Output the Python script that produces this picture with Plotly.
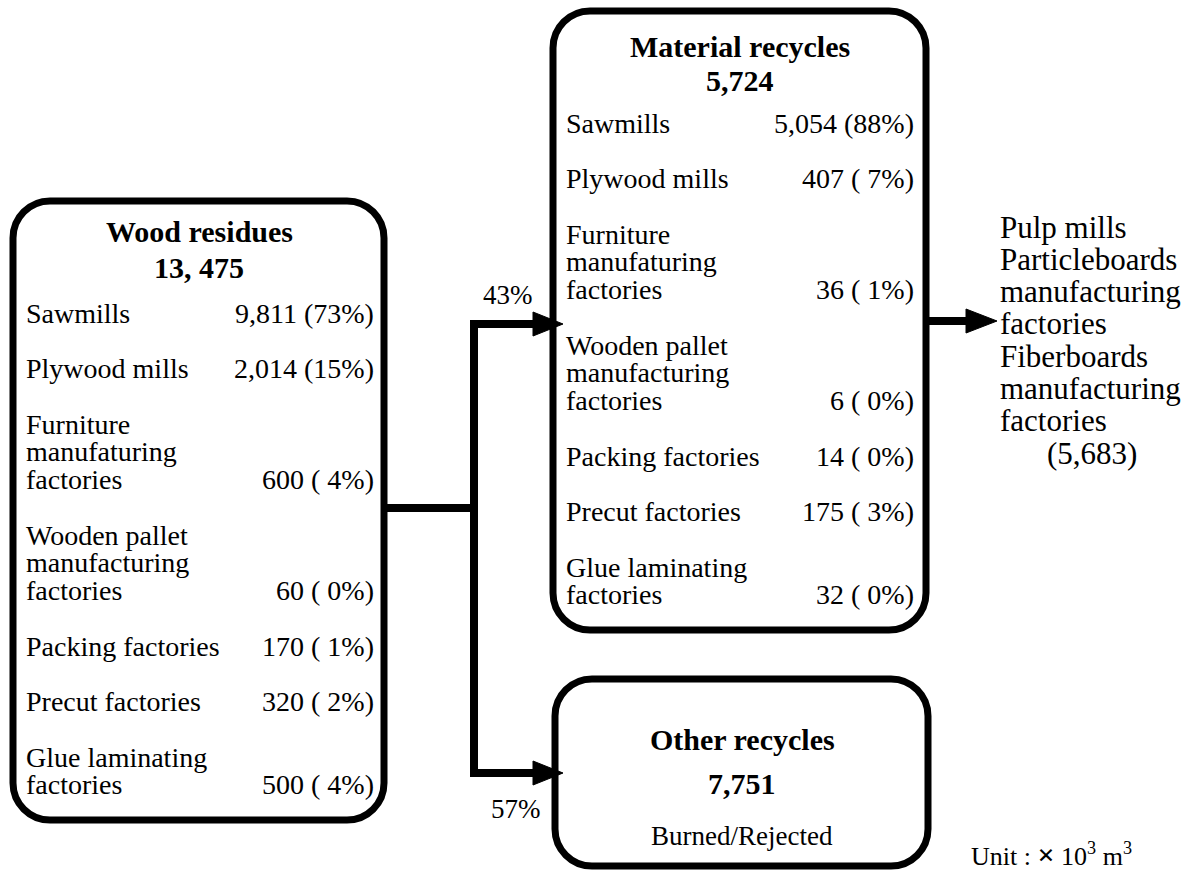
import plotly.graph_objects as go

# ---------------- data ----------------
source_labels = [
    ["Sawmills"],
    ["Plywood mills"],
    ["Furniture", "manufaturing", "factories"],
    ["Wooden pallet", "manufacturing", "factories"],
    ["Packing factories"],
    ["Precut factories"],
    ["Glue laminating", "factories"],
]
residue_values = [9811, 2014, 600, 60, 170, 320, 500]
residue_pct = [73, 15, 4, 0, 1, 2, 4]
material_values = [5054, 407, 36, 6, 14, 175, 32]
material_pct = [88, 7, 1, 0, 0, 3, 0]

residue_title = "Wood residues"
residue_total = "13, 475"
material_title = "Material recycles"
material_total = "5,724"
other_title = "Other recycles"
other_total = "7,751"
other_note = "Burned/Rejected"
share_material = "43%"
share_other = "57%"
destination_lines = ["Pulp mills", "Particleboards", "manufacturing", "factories",
                     "Fiberboards", "manufacturing", "factories"]
destination_total = "(5,683)"
unit_text = "Unit : <span style='font-size:30px'><b>×</b></span> 10<sup>3</sup> m<sup>3</sup>"

# ---------------- styling ----------------
W, H = 1193, 877
FONT = "Liberation Serif, Times New Roman, serif"
BODY = 28
TITLE = 30
LW = 7
K = 0.5523

fig = go.Figure()
shapes = []
annotations = []


def rrect(x0, y0, x1, y1, r):
    k = K * r
    return (f"M {x0+r},{y0} L {x1-r},{y0} C {x1-r+k},{y0} {x1},{y0+r-k} {x1},{y0+r} "
            f"L {x1},{y1-r} C {x1},{y1-r+k} {x1-r+k},{y1} {x1-r},{y1} "
            f"L {x0+r},{y1} C {x0+r-k},{y1} {x0},{y1-r+k} {x0},{y1-r} "
            f"L {x0},{y0+r} C {x0},{y0+r-k} {x0+r-k},{y0} {x0+r},{y0} Z")


def add_box(x0, y0, x1, y1):
    shapes.append(dict(type="path", path=rrect(x0, y0, x1, y1, 37), xref="x", yref="y",
                       line=dict(color="black", width=LW), fillcolor="white", layer="below"))


def text(x, y, s, size=BODY, anchor="left", bold=False):
    annotations.append(dict(x=x, y=y, xref="x", yref="y", text=(f"<b>{s}</b>" if bold else s),
                            showarrow=False, xanchor=anchor, yanchor="middle",
                            font=dict(family=FONT, size=size, color="black")))


def fill_items(top, xl, xr, values, pcts):
    LS, GAP = 27.75, 55.5
    y = top + 112
    for lines, v, p in zip(source_labels, values, pcts):
        for j, ln in enumerate(lines):
            text(xl, y + j * LS, ln)
        ylast = y + (len(lines) - 1) * LS
        label = f"{v:,} ({p}%)" if p >= 10 else f"{v:,} (&nbsp;{p}%)"
        text(xr, ylast, label, anchor="right")
        y = ylast + GAP


def arrow_head(xb, y, length=30, half=12):
    shapes.append(dict(type="path", path=f"M {xb},{y-half} L {xb+length},{y} L {xb},{y+half} Z",
                       xref="x", yref="y", fillcolor="black", line=dict(color="black", width=1)))


# boxes
add_box(13, 201, 384, 820)
add_box(553, 11, 926, 630)
add_box(555, 679, 928, 866)

# left box
text(199, 231, residue_title, TITLE, "center", True)
text(199, 267, residue_total, TITLE, "center", True)
fill_items(201, 24, 376, residue_values, residue_pct)

# material box
text(740, 46, material_title, TITLE, "center", True)
text(740, 80, material_total, TITLE, "center", True)
fill_items(11, 564, 916, material_values, material_pct)

# other box
text(742, 739, other_title, TITLE, "center", True)
text(742, 783, other_total, TITLE, "center", True)
text(742, 836, other_note, 27, "center")

# connectors
shapes.append(dict(type="line", x0=384, y0=508, x1=474, y1=508, xref="x", yref="y",
                   line=dict(color="black", width=8)))
shapes.append(dict(type="path", path="M 536,324 L 474,324 L 474,773 L 536,773", xref="x", yref="y",
                   line=dict(color="black", width=8)))
arrow_head(533, 324)
arrow_head(533, 773)
shapes.append(dict(type="line", x0=926, y0=321, x1=968, y1=321, xref="x", yref="y",
                   line=dict(color="black", width=8)))
arrow_head(966, 321, 31, 12)

text(508, 295, share_material, 27, "center")
text(516, 809, share_other, 27, "center")

# destination text
for i, ln in enumerate(destination_lines):
    text(998, 227 + i * 32.3, ln, 31)
text(1092, 227 + 7 * 32.3, destination_total, 31, "center")

# unit
text(1051, 854, unit_text, 26, "center")

fig.update_layout(
    width=W, height=H, margin=dict(l=0, r=0, t=0, b=0),
    paper_bgcolor="white", plot_bgcolor="white", showlegend=False,
    xaxis=dict(range=[0, W], visible=False, fixedrange=True),
    yaxis=dict(range=[H, 0], visible=False, fixedrange=True),
    shapes=shapes, annotations=annotations,
)

fig.write_html("out.html", config={"displayModeBar": False},
               post_script="document.body.style.margin='0';")
